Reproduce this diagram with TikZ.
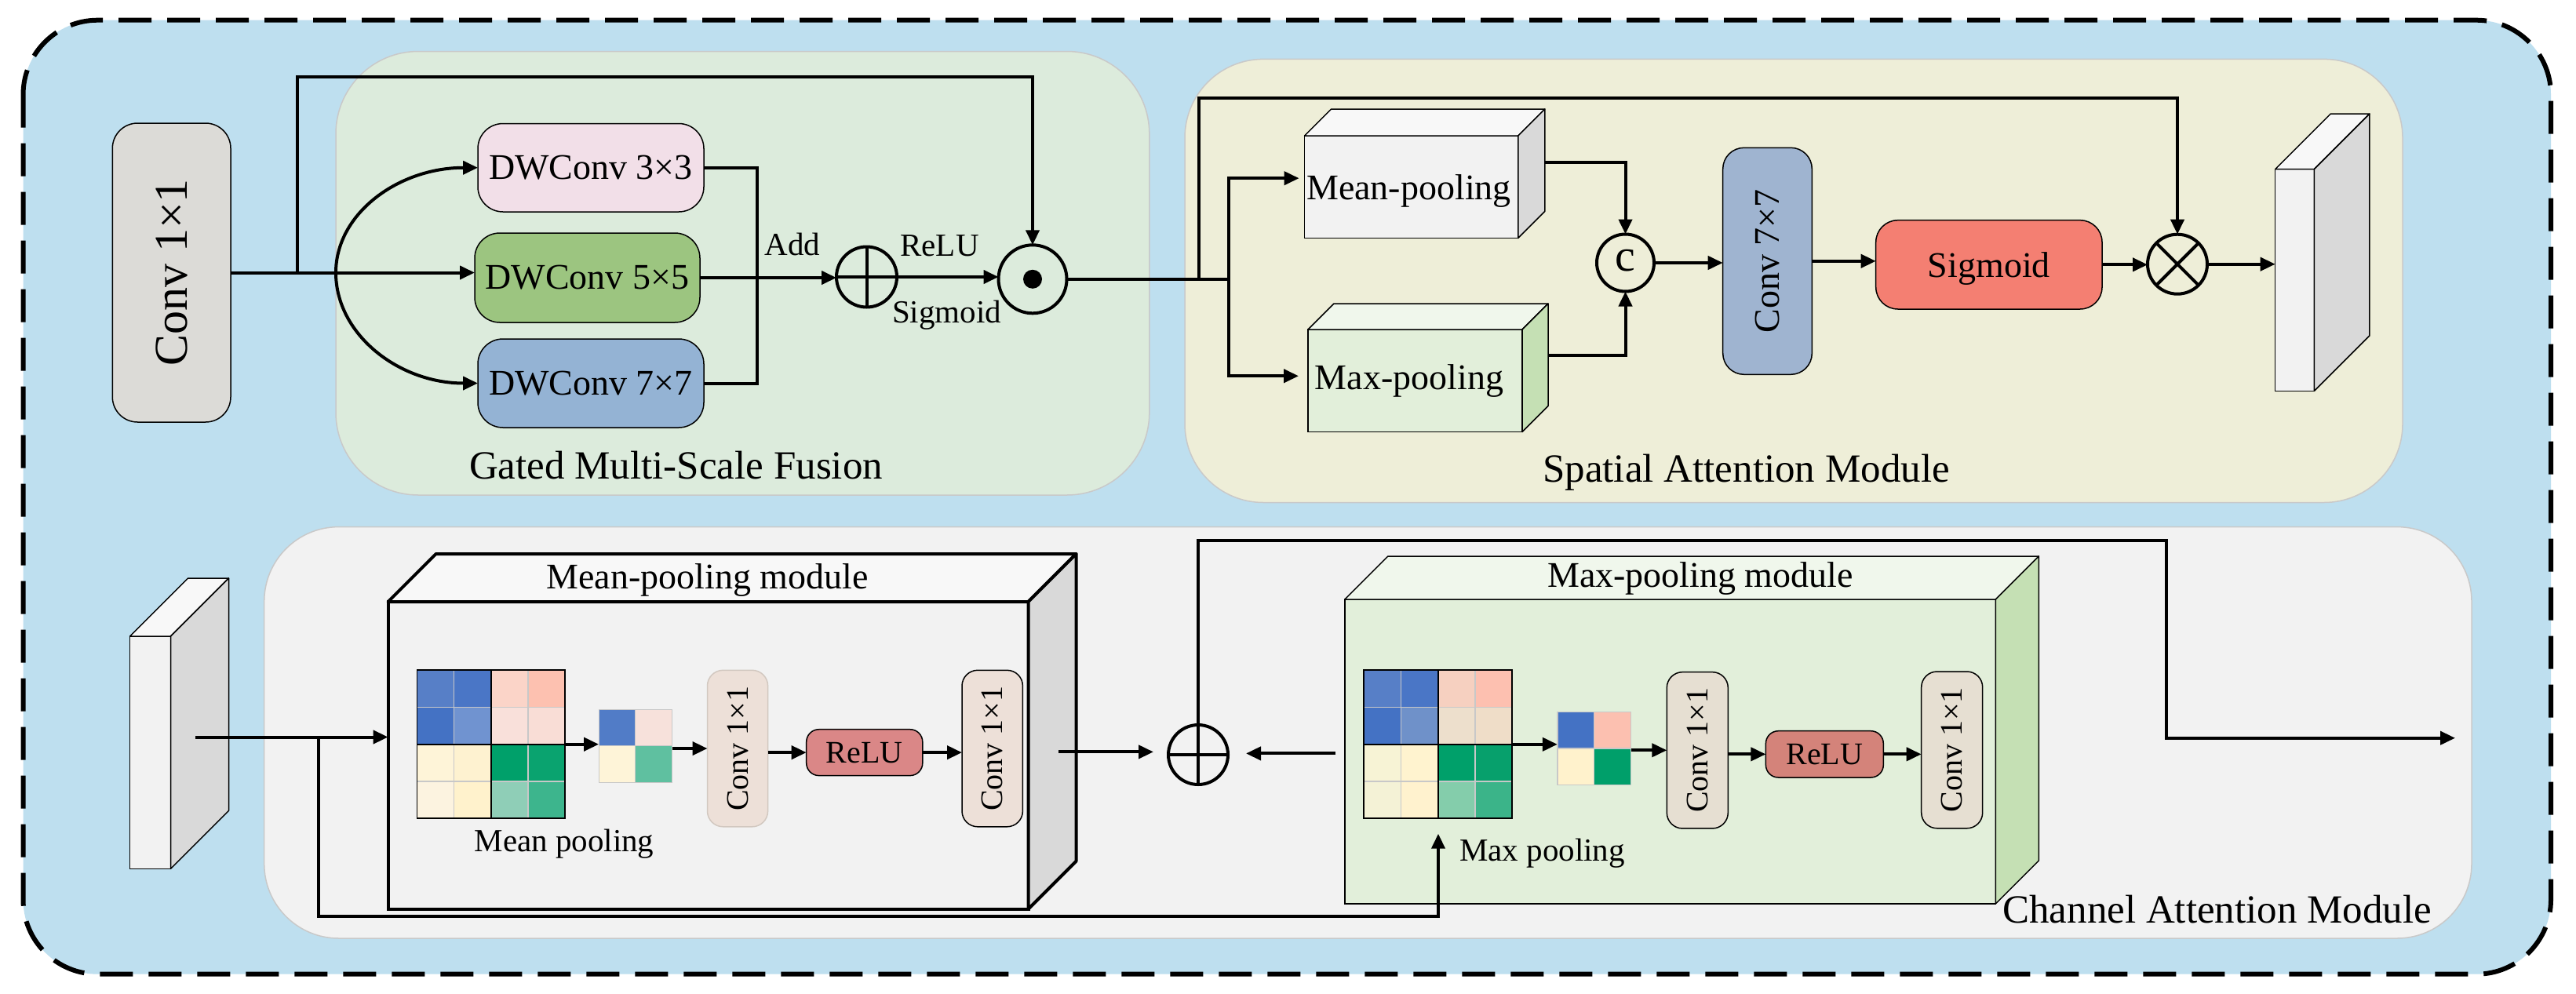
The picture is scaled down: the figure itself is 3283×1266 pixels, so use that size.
\documentclass[tikz,border=0pt]{standalone}
\usepackage{fontspec}
\usepackage{graphicx}
\setmainfont{Liberation Serif}
\usetikzlibrary{arrows.meta,calc}

\definecolor{outerbg}{HTML}{BEDFEF}
\definecolor{gmsfc}{HTML}{DCEBDC}
\definecolor{samc}{HTML}{EEEED8}
\definecolor{camc}{HTML}{F2F2F2}
\definecolor{panelgray}{HTML}{C9C9C9}
\definecolor{gridgray}{HTML}{C8C8C8}
\definecolor{conv1c}{HTML}{DCDBD7}
\definecolor{dw3c}{HTML}{F2DFE8}
\definecolor{dw5c}{HTML}{9CC580}
\definecolor{dw7c}{HTML}{94B3D4}
\definecolor{conv7c}{HTML}{9FB4D0}
\definecolor{sigc}{HTML}{F47F72}
\definecolor{grayfront}{HTML}{F2F2F2}
\definecolor{graytop}{HTML}{F8F8F8}
\definecolor{grayside}{HTML}{D9D9D9}
\definecolor{grnfront}{HTML}{E2EFDA}
\definecolor{grntop}{HTML}{F0F7EC}
\definecolor{grnside}{HTML}{C5E0B4}
\definecolor{convAc}{HTML}{EDE0D8}
\definecolor{convCc}{HTML}{E6DFD2}
\definecolor{reluAc}{HTML}{DA8787}
\definecolor{reluCc}{HTML}{D4837A}
\definecolor{lightborder}{HTML}{D2C8C0}

\newcommand\myfs[1]{\fontsize{#1}{#1}\selectfont}

% cuboid: node name, depth, top colour, side colour, line width
\newcommand\cuboid[5]{%
  \filldraw[fill=#3,draw=black,line width=#5,line join=round] (#1.north west) -- ++(#2,-#2) -- ($(#1.north east)+(#2,-#2)$) -- (#1.north east) -- cycle;
  \filldraw[fill=#4,draw=black,line width=#5,line join=round] (#1.north east) -- ++(#2,-#2) -- ($(#1.south east)+(#2,-#2)$) -- (#1.south east) -- cycle;
}

% 4x4 grid: x0, y0, cell, colours
\newcommand\pgrid[4]{%
  \foreach \cc [count=\i from 0] in {#4}{%
    \pgfmathtruncatemacro\rr{div(\i,4)}%
    \pgfmathtruncatemacro\kk{mod(\i,4)}%
    \definecolor{tmpc}{HTML}{\cc}%
    \filldraw[fill=tmpc,draw=gridgray,line width=1.3pt] ({#1+\kk*#3},{#2+\rr*#3}) rectangle ++(#3,#3);
  }%
  \foreach \qr in {0,1}{\foreach \qc in {0,1}{%
    \draw[line width=1.8pt] ({#1+\qc*2*#3},{#2+\qr*2*#3}) rectangle ++({2*#3},{2*#3});}}%
}
% 2x2 grid
\newcommand\sgrid[4]{%
  \foreach \cc [count=\i from 0] in {#4}{%
    \pgfmathtruncatemacro\rr{div(\i,2)}%
    \pgfmathtruncatemacro\kk{mod(\i,2)}%
    \definecolor{tmpc}{HTML}{\cc}%
    \filldraw[fill=tmpc,draw=gridgray,line width=1.3pt] ({#1+\kk*#3},{#2+\rr*#3}) rectangle ++(#3,#3);
  }%
}

\begin{document}
\begin{tikzpicture}[x=1pt,y=-1pt,
  ln/.style={line width=4pt},
  arr/.style={line width=4pt,-{Triangle[length=19pt,width=17pt]}},
  rbox/.style={draw=black,line width=1.5pt,rounded corners=#1,inner sep=0pt,outer sep=0pt},
  rbox/.default=30pt,
  face/.style={draw=black,line width=1.5pt,inner sep=0pt,outer sep=0pt},
  opnode/.style={circle,draw=black,line width=4pt,inner sep=0pt,outer sep=0pt},
  panel/.style={draw=panelgray,line width=1.5pt,rounded corners=#1},
  lab/.style={inner sep=0pt,anchor=base},
]
\useasboundingbox (0,0) rectangle (3283,1266);
\fill[white] (0,0) rectangle (3283,1266);

% outer dashed frame
\draw[fill=outerbg,line width=6pt,dash pattern=on 42pt off 20pt,rounded corners=95pt] (29.5,25.7) rectangle (3251,1241.7);

% panels
\filldraw[panel=105pt,fill=gmsfc] (428,65.5) rectangle (1464.8,631);
\filldraw[panel=100pt,fill=samc] (1510,75.4) rectangle (3062,640.5);
\filldraw[panel=95pt,fill=camc] (336.7,671.6) rectangle (3150,1196);

% panel titles
\node[lab,font={\myfs{51}}] (tgmsf) at (861.5,610) {Gated Multi-Scale Fusion};
\node[lab,font={\myfs{51}}] (tsam) at (2225.5,614) {Spatial Attention Module};

% ===== Gated multi-scale fusion =====
\node[rbox=32pt,fill=conv1c,minimum width=150.7pt,minimum height=381pt] (conv1) at (218.65,347.5) {\rotatebox{90}{\myfs{60}Conv 1×1}};
\node[rbox=32pt,fill=dw3c,minimum width=288pt,minimum height=112.5pt,font={\myfs{46}}] (dw3) at (753,213.75) {DWConv 3×3};
\node[rbox=32pt,fill=dw5c,minimum width=287pt,minimum height=114pt,font={\myfs{46}}] (dw5) at (748.5,354) {DWConv 5×5};
\node[rbox=32pt,fill=dw7c,minimum width=288pt,minimum height=113pt,font={\myfs{46}}] (dw7) at (753,488.5) {DWConv 7×7};

\node[opnode,minimum size=77pt] (add) at (1104.5,353) {};
\draw[ln] (add.north) -- (add.south) (add.west) -- (add.east);
\node[opnode,minimum size=87pt] (had) at (1316,355.8) {};
\fill (had.center) circle (12pt);

\node[lab,font={\myfs{41}}] (tadd) at (1010,325.4) {Add};
\node[lab,font={\myfs{41}}] (trelu) at (1197.5,326.7) {ReLU};
\node[lab,font={\myfs{41}}] (tsig) at (1206.5,411.7) {Sigmoid};

\coordinate (b1) at (379,347.5);
\coordinate (a0) at (428,347.5);
\coordinate (coll) at (965,350);
\coordinate (top1) at (0,97.8);

\draw[arr] (conv1.east) -- (conv1.east -| dw5.west);
\draw[arr] (b1) -- (b1 |- top1) -| (had.north);
\draw[arr] (a0) .. controls (428,272) and (508,213.75) .. (dw3.west);
\draw[arr] (a0) .. controls (428,426) and (508,488.5) .. (dw7.west);
\draw[ln] (dw3.east) -| (coll) |- (dw7.east);
\draw[arr] (dw5.east) -- (dw5.east -| add.west);
\draw[arr] (add.east) -- (add.east -| had.west);

% ===== Spatial attention =====
\node[face,fill=grayfront,minimum width=272.2pt,minimum height=130.4pt] (mp) at (1798.7,238.2) {};
\cuboid{mp}{34}{graytop}{grayside}{1.5pt}
\node[face,fill=grnfront,minimum width=273pt,minimum height=130.5pt] (xp) at (1803.5,485.25) {};
\cuboid{xp}{33}{grntop}{grnside}{1.5pt}
\node[lab,font={\myfs{46}}] (tmp) at (1795.5,254) {Mean-pooling};
\node[lab,font={\myfs{46}}] (txp) at (1796,496.6) {Max-pooling};

\node[opnode,minimum size=73pt] (cat) at (2071.5,335) {};
\node[inner sep=0pt,font={\myfs{58}}] (tc) at (2071.5,332) {c};
\node[rbox=27pt,fill=conv7c,minimum width=113.6pt,minimum height=289pt] (conv7) at (2252.5,332.8) {\rotatebox{90}{\myfs{46}Conv 7×7}};
\node[rbox=28pt,fill=sigc,minimum width=288.3pt,minimum height=113.3pt,font={\myfs{46}},text depth=0pt] (sig) at (2534.85,337.35) {Sigmoid};
\node[opnode,minimum size=76pt] (mul) at (2775,336.7) {};
\draw[ln] (mul.45) -- (mul.225) (mul.135) -- (mul.315);
\node[face,fill=grayfront,minimum width=49.7pt,minimum height=282.7pt] (oslab) at (2924.55,356.95) {};
\cuboid{oslab}{70.5}{graytop}{grayside}{1.5pt}

\coordinate (s0) at (1566,355.8);
\coordinate (s1) at (1528,355.8);
\coordinate (top2) at (0,125.2);
\coordinate (mpo) at (1969,207);
\coordinate (xpo) at (1973,453);

\draw[ln] (had.east) -- (s0);
\draw[arr] (s1) -- (s1 |- top2) -| (mul.north);
\draw[arr,shorten >=7pt] (s0) |- ([yshift=11pt]mp.west);
\draw[arr,shorten >=12pt] (s0) |- ([yshift=6pt]xp.west);
\draw[arr] (mpo) -| (cat.north);
\draw[arr] (xpo) -| (cat.south);
\draw[arr] (cat.east) -- (cat.east -| conv7.west);
\draw[arr] (conv7.east) -- (conv7.east -| sig.west);
\draw[arr] (sig.east) -- (sig.east -| mul.west);
\draw[arr] (mul.east) -- (mul.east -| oslab.west);

% ===== Channel attention =====
\node[face,fill=grayfront,minimum width=51.9pt,minimum height=296.3pt] (islab) at (191.55,959.15) {};
\cuboid{islab}{74}{graytop}{grayside}{1.5pt}

\node[face,line width=4pt,fill=grayfront,minimum width=815.9pt,minimum height=391.7pt] (meanmod) at (902.55,962.85) {};
\cuboid{meanmod}{61}{graytop}{grayside}{4pt}
\node[face,fill=grnfront,minimum width=829.5pt,minimum height=388pt] (maxmod) at (2128.55,958) {};
\cuboid{maxmod}{55}{grntop}{grnside}{1.5pt}

\node[lab,font={\myfs{46}}] (tmeanmod) at (901.5,750) {Mean-pooling module};
\node[lab,font={\myfs{46}}] (tmaxmod) at (2167,748) {Max-pooling module};
\node[lab,font={\myfs{51}}] (tcam) at (2825.7,1176.7) {Channel Attention Module};

% grids (mean)
\pgrid{531.5}{854.3}{47.2}{577FC7,4A76C6,FBD4C8,FDC1B0,4472C4,7093D0,F9E0DA,F9DDD6,FEF4D8,FEF2D0,00A06A,0AA36F,FCF3E0,FFF2CC,8FCEB7,3DB58D}
\node[inner sep=0pt,minimum width=188.8pt,minimum height=188.8pt] (gridA) at (625.9,948.7) {};
\sgrid{763.3}{904.3}{46.5}{517CC7,F7E1DB,FEF4D8,5FC0A0}
\node[inner sep=0pt,minimum width=93pt,minimum height=93pt] (smallA) at (809.8,950.8) {};
\node[lab,font={\myfs{41}}] (tmeanp) at (719,1085) {Mean pooling};

% grids (max)
\pgrid{1738.3}{854.3}{47.25}{577FC7,4A76C6,F6D0C0,FDC0B0,4472C4,6F91C9,EDDFCC,EFDDC8,F7F3D5,FFF3CF,00A06A,07A06C,F4F2D6,FFF2CE,84CDAB,3BB489}
\node[inner sep=0pt,minimum width=189pt,minimum height=189pt] (gridB) at (1832.8,948.8) {};
\sgrid{1985}{907.3}{46.7}{4472C4,FCC0B0,FFF2CC,009F6A}
\node[inner sep=0pt,minimum width=93.4pt,minimum height=93.4pt] (smallB) at (2031.7,954) {};
\node[lab,font={\myfs{41}}] (tmaxp) at (1965.5,1097) {Max pooling};

% conv / relu boxes
\node[rbox=20pt,draw=lightborder,fill=convAc,minimum width=77.1pt,minimum height=199.5pt] (convA) at (940.05,954.05) {\rotatebox{90}{\myfs{40}Conv 1×1}};
\node[rbox=16pt,fill=reluAc,minimum width=148.1pt,minimum height=58.9pt,font={\myfs{40}}] (reluA) at (1101.75,959.15) {ReLU};
\node[rbox=20pt,fill=convAc,minimum width=77.4pt,minimum height=199.5pt] (convB) at (1264.7,954.05) {\rotatebox{90}{\myfs{40}Conv 1×1}};
\node[rbox=20pt,fill=convCc,minimum width=78pt,minimum height=199.3pt] (convC) at (2163.3,956.3) {\rotatebox{90}{\myfs{40}Conv 1×1}};
\node[rbox=16pt,fill=reluCc,minimum width=149.9pt,minimum height=59.3pt,font={\myfs{40}}] (reluC) at (2325.35,961.35) {ReLU};
\node[rbox=20pt,fill=convCc,minimum width=78pt,minimum height=199.8pt] (convD) at (2487.7,955.9) {\rotatebox{90}{\myfs{40}Conv 1×1}};

\node[opnode,minimum size=76pt] (addB) at (1527,962) {};
\draw[ln] (addB.north) -- (addB.south) (addB.west) -- (addB.east);

\coordinate (cin) at (249,939.5);
\coordinate (cb) at (405.5,939.5);
\coordinate (bot) at (0,1167.8);
\coordinate (mpl) at (1833,1062.7);
\coordinate (mmo) at (1349,958.4);
\coordinate (xmo) at (1702,960.4);
\coordinate (rturn) at (2760.8,689.3);
\coordinate (cout) at (3129,940.7);

\draw[arr] (cin) -- (cin -| meanmod.west);
\draw[arr] (cb) -- (cb |- bot) -| (mpl);
\draw[arr] (gridA.east) -- (gridA.east -| smallA.west);
\draw[arr] (smallA.east |- convA.west) -- (convA.west);
\draw[arr] (convA.east |- reluA.west) -- (reluA.west);
\draw[arr] (reluA.east) -- (reluA.east -| convB.west);
\draw[arr] (gridB.east) -- (gridB.east -| smallB.west);
\draw[arr] (smallB.east |- convC.west) -- (convC.west);
\draw[arr] (convC.east |- reluC.west) -- (reluC.west);
\draw[arr] (reluC.east) -- (reluC.east -| convD.west);
\draw[arr,shorten >=19pt] (mmo) -- (mmo -| addB.west);
\draw[arr,shorten >=23pt] (xmo) -- (xmo -| addB.east);
\draw[arr] (addB.north) |- (rturn) |- (cout);
\end{tikzpicture}
\end{document}
